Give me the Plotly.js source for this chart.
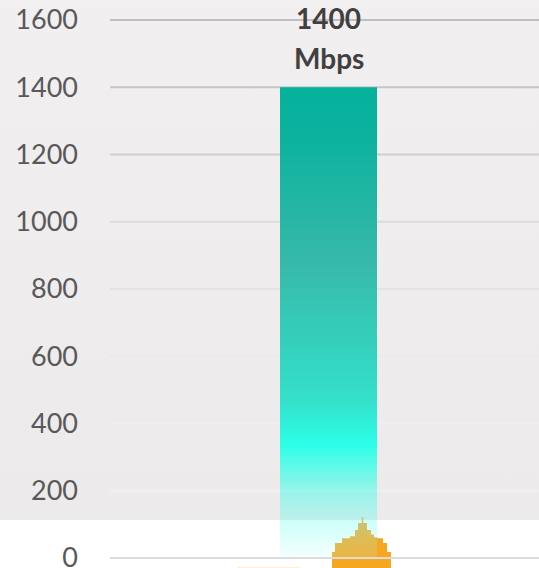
<!DOCTYPE html>
<html>
<head>
<meta charset="utf-8">
<script src="https://cdn.plot.ly/plotly-3.0.1.min.js"></script>
<style>
html,body{margin:0;padding:0;width:539px;height:568px;overflow:hidden;
background:linear-gradient(#f1eff0 0,#eceaeb 520px,#ffffff 520px);}
#chart{width:539px;height:568px;}
</style>
</head>
<body>
<div id="chart"></div>
<script>
const speedValue = 1400;
const speedUnit = "Mbps";
const tickValues = [0, 200, 400, 600, 800, 1000, 1200, 1400, 1600];
const gridColors = ["#dcdcdc", "#f2f1f2", "#f0eeef", "#ebe9ea", "#e4e3e4", "#dddcdd", "#d0cfd0", "#c6c5c6", "#c0bfc0"];
const moundLeftX = [332, 332, 335, 335, 342, 342, 350, 350, 355, 355, 358, 358, 361.7, 361.7, 363.3, 363.3, 367, 367, 371, 371, 374, 374, 377, 377];
const moundLeftY = [0, 18, 18, 45, 45, 59, 59, 65, 65, 83, 83, 104, 104, 122, 122, 104, 104, 83, 83, 70, 70, 62, 62, 0];
const moundRightX = [377, 377, 383, 383, 387, 387, 391, 391];
const moundRightY = [0, 59, 59, 45, 45, 18, 18, 0];
const moundBaseX = [332, 391, 391, 332];
const moundBaseY = [-3, -3, -30, -30];
const barCenter = 328.5, barWidth = 97;
const gradientStops = [
  [0, "rgba(45,255,232,0.05)"],
  [0.08, "rgba(45,255,232,0.24)"],
  [0.144, "rgba(45,255,232,0.45)"],
  [0.24, "rgba(45,255,232,1)"],
  [0.335, "rgba(52,224,202,1)"],
  [0.63, "rgba(55,185,170,1)"],
  [0.89, "rgba(12,178,158,1)"],
  [1, "rgba(4,178,156,1)"]
];
const moundStops = [[0, "#ecb440"], [0.5, "#dcbd5a"], [1, "#c4c67a"]];
const hidden = {width:0, color:"rgba(0,0,0,0)"};
const traces = [
  {type:"bar", x:[barCenter], y:[speedValue], width:[barWidth], marker:{color:"rgba(0,0,0,0)"}, hoverinfo:"skip", showlegend:false},
  {type:"bar", x:[269], y:[-4], base:[-26], width:[62], marker:{color:"#fdeedd"}, hoverinfo:"skip", showlegend:false},
  {type:"scatter", mode:"lines", x:moundBaseX, y:moundBaseY, fill:"toself", fillcolor:"#f5a81f", line:hidden, hoverinfo:"skip", showlegend:false},
  {type:"scatter", mode:"lines", x:moundRightX, y:moundRightY, fill:"toself", fillcolor:"#f5a81f", line:hidden, hoverinfo:"skip", showlegend:false},
  {type:"scatter", mode:"lines",
   x:[barCenter-barWidth/2, barCenter+barWidth/2, barCenter+barWidth/2, barCenter-barWidth/2],
   y:[0, 0, speedValue, speedValue], fill:"toself",
   fillgradient:{type:"vertical", colorscale:gradientStops},
   line:hidden, hoverinfo:"skip", showlegend:false},
  {type:"scatter", mode:"lines", x:moundLeftX, y:moundLeftY, fill:"toself",
   fillgradient:{type:"vertical", colorscale:moundStops}, line:hidden, hoverinfo:"skip", showlegend:false}
];
const gridShapes = tickValues.map((v,i)=>({
  type:"line", xref:"paper", yref:"y", x0:0, x1:1, y0:v, y1:v,
  layer: v===0 ? "above" : "below",
  line:{color:gridColors[i], width:2}
}));
const layout = {
  width:539, height:598,
  margin:{l:110, r:0, t:0, b:30, pad:0},
  paper_bgcolor:"rgba(0,0,0,0)", plot_bgcolor:"rgba(0,0,0,0)",
  showlegend:false, barmode:"overlay",
  xaxis:{range:[110,539], visible:false, fixedrange:true},
  yaxis:{range:[-29.7,1659.5], tickmode:"array", tickvals:tickValues, ticktext:tickValues.map(String),
    showgrid:false, zeroline:false, showline:false, ticks:"", ticklabelstandoff:31,
    tickfont:{family:"Lato, 'Open Sans', sans-serif", size:27, color:"#595959"}, fixedrange:true},
  shapes:gridShapes,
  annotations:[
    {x:barCenter, y:1606, yanchor:"middle", xref:"x", yref:"y", text:"<b>"+speedValue+"</b>", showarrow:false,
     font:{family:"Lato, 'Open Sans', sans-serif", size:28, color:"#404040"}},
    {x:barCenter, y:1487, yanchor:"middle", xref:"x", yref:"y", text:"<b>"+speedUnit+"</b>", showarrow:false,
     font:{family:"Lato, 'Open Sans', sans-serif", size:28, color:"#404040"}}
  ]
};
Plotly.newPlot("chart", traces, layout, {displayModeBar:false, staticPlot:true});
</script>
</body>
</html>
